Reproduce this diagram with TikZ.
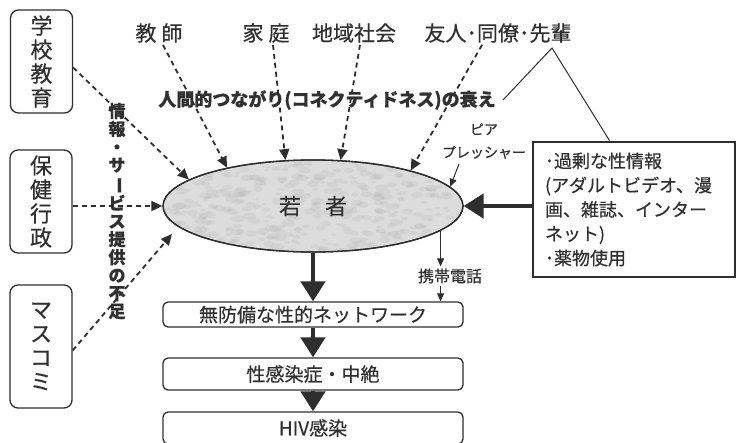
\documentclass[tikz,border=0pt]{standalone}
\usepackage{fontspec}
\usepackage{graphicx}
\setmainfont{Noto Sans CJK JP}[FakeBold=0.5]
\newfontfamily\cjkv{Noto Sans CJK JP}[FakeBold=0.5]
\usetikzlibrary{arrows.meta,shapes.geometric}
\newcommand{\myfs}[2]{\fontsize{#1}{#2}\selectfont}
\newcommand{\vbar}{\rotatebox[origin=c]{-90}{ー}}
\definecolor{lc}{HTML}{2E2E2E}
\definecolor{tc}{HTML}{303030}
\definecolor{ef}{HTML}{DCDCDC}
\begin{document}
\begin{tikzpicture}[x=1pt,y=-1pt,
  every node/.style={text=tc},
  lbox/.style={draw=lc, line width=1.3pt, rounded corners=8pt, minimum width=62pt, align=center, inner sep=0pt, font=\cjkv\myfs{22}{24}},
  fbox/.style={draw=lc, line width=1.3pt, rounded corners=5pt, minimum width=300pt, inner sep=0pt},
  dar/.style={draw=lc, line width=1.8pt, dash pattern=on 5pt off 4pt, -{Triangle[length=11pt,width=10pt]}},
  tar/.style={draw=lc, line width=4.5pt, -{Triangle[length=20pt,width=24pt]}},
  sar/.style={draw=lc, line width=1pt, -{Triangle[length=8pt,width=7pt]}},
  lab/.style={inner sep=2pt, font=\myfs{21}{24}}
]
\useasboundingbox (0,0) rectangle (736,442);
\clip (0,0) rectangle (736,442);
% left boxes
\node[lbox, minimum height=103pt] (b1) at (41.5,61.5) {学\\校\\教\\育};
\node[lbox, minimum height=103pt] (b2) at (41,201.5) {保\\健\\行\\政};
\node[lbox, minimum height=123pt] (b3) at (41,346.5) {マ\\ス\\コ\\ミ};
% central ellipse
\node[ellipse, draw=lc, line width=1.3pt, fill=ef, minimum width=300pt, minimum height=92pt, inner sep=0pt] (y) at (313,206) {};
\begin{scope}
  \clip (313,206) ellipse [x radius=149pt, y radius=45pt];
  \pgfmathsetseed{7}
  \foreach \i in {1,...,450} {
    \pgfmathsetmacro{\px}{163+300*rnd}
    \pgfmathsetmacro{\py}{160+92*rnd}
    \pgfmathsetmacro{\pr}{1+2.5*rnd}
    \fill[gray!60, opacity=0.2] (\px,\py) ellipse [x radius=2*\pr pt, y radius=\pr pt];
  }
\end{scope}
\draw[lc, line width=1.3pt] (y.center) ellipse [x radius=150pt, y radius=46pt];
\node[font=\myfs{22}{24}, inner sep=0pt] (yt) at (y.center) {若\hspace{24pt}者};
% top labels
\node[lab] (t1) at (159,33) {教\hspace{5pt}師};
\node[lab] (t2) at (266,33) {家\hspace{5pt}庭};
\node[lab] (t3) at (354,33) {地域社会};
\node[lab] (t4) at (498,33) {友人･同僚･先輩};
\node[inner sep=1pt, font=\bfseries\myfs{18}{20}] (con) at (327,100) {人間的つながり(コネクティドネス)の衰え};
\node[inner sep=0pt, align=center, font=\cjkv\bfseries\myfs{17}{18}] (vt) at (117,211) {情\\報\\・\\サ\\\vbar\\ビ\\ス\\提\\供\\の\\不\\足};
% right box
\node[draw=lc, line width=1.3pt, minimum width=202pt, minimum height=135pt, text width=178pt, inner xsep=12pt, align=left, font=\myfs{18}{24.3}] (rb) at (634,209.5) {･過剰な性情報\\(アダルトビデオ、漫\\画、雑誌、インター\\ネット)\\･薬物使用};
\node[inner sep=0pt, align=center, font=\myfs{14}{23}] (pp) at (484,141) {ピア\\プレッシャー};
\coordinate (ppa) at (459,164);
\coordinate (apex) at (552,48);
\coordinate (tl) at (503,100);
% chain boxes
\node[fbox, minimum height=25pt, font=\myfs{19}{22}] (n1) at (313,314.5) {無防備な性的ネットワーク};
\node[fbox, minimum height=32pt, font=\myfs{19}{22}] (n2) at (313,374) {性感染症・中絶};
\node[fbox, minimum height=32pt, font=\myfs{19}{22}] (n3) at (313,428) {HIV感染};
\node[inner sep=2pt, font=\myfs{16}{18}] (kt) at (450,276) {携帯電話};
\coordinate (mtip) at (172,234);
% triangle
\draw[lc, line width=1pt] (tl) -- (apex) -- ([xshift=-24pt]rb.north);
% dashed arrows from left
\draw[dar] ([yshift=-6pt]b1.east) -- (y.168);
\draw[dar] (b2.east |- y.west) -- (y.west);
\draw[dar] ([yshift=-4pt]b3.east) -- (mtip);
% dashed arrows from top
\draw[dar] ([xshift=4pt]t1.south) -- (y.156.6);
\draw[dar] ([xshift=7pt]t2.south) -- (y.121.9);
\draw[dar] ([xshift=6pt]t3.south) -- (y.59.6);
\draw[dar] ([xshift=-16pt]t4.south) -- (y.20);
% peer pressure
\draw[sar] (ppa) -- (y.8);
% right thick arrow
\draw[tar] (rb.west |- y.east) -- (y.east);
% phone
\draw[sar] (y.-11) -- (y.-11 |- kt.north);
\draw[sar] (y.-11 |- kt.south) -- (y.-11 |- n1.north);
% chain
\draw[tar] (y.south) -- (n1.north);
\draw[tar] (n1.south) -- (n2.north);
\draw[tar] (n2.south) -- (n3.north);
\end{tikzpicture}
\end{document}
